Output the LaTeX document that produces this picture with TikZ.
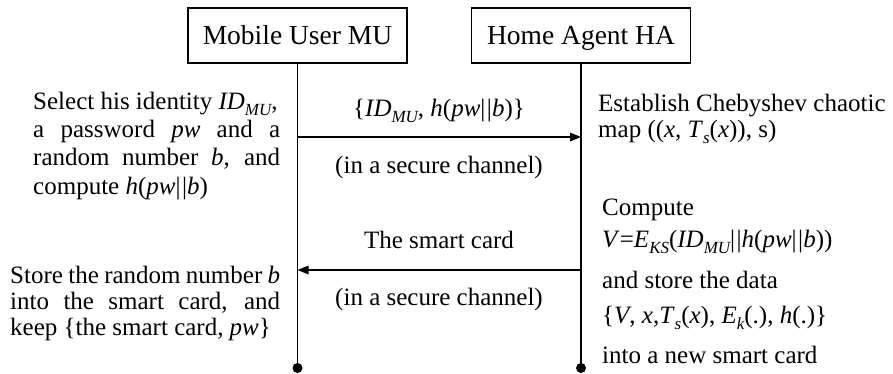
\documentclass[tikz,border=0pt]{standalone}
\usepackage{fontspec}
\setmainfont{Liberation Serif}
\usetikzlibrary{arrows.meta}
\newcommand{\lo}[1]{\raisebox{-6pt}{\fontsize{17}{17}\selectfont\itshape #1}}
\newcommand{\ii}[1]{\textit{#1}}
\newcommand{\cc}{|\kern1.5pt|}
\begin{document}
\begin{tikzpicture}[x=1pt,y=-1pt,
  actor/.style={draw, line width=1.6pt, minimum width=219pt, minimum height=55pt, inner sep=0pt,
    text height=18pt, text depth=0pt, font=\fontsize{27.5}{30}\selectfont},
  life/.style={line width=1.6pt},
  msg/.style={line width=1.6pt, -{Triangle[length=11pt,width=8.5pt]}},
  txt/.style={anchor=base west, inner sep=0pt, font=\fontsize{25}{28}\selectfont},
  lbl/.style={anchor=base, inner sep=0pt, font=\fontsize{25}{28}\selectfont}]
\useasboundingbox (0,0) rectangle (893,374);
\node[actor] (mu) at (297.5,35.5) {Mobile User MU};
\node[actor] (ha) at (581,35.5) {Home Agent HA};
\coordinate (mudot) at (297.5,368);
\coordinate (hadot) at (581,368);
\draw[life] (mu.south) -- (mudot);
\draw[life] (ha.south) -- (hadot);
\fill (mudot) circle (5pt);
\fill (hadot) circle (5pt);
\coordinate (m1a) at (297.5,137);
\coordinate (m1b) at (581,137);
\coordinate (m2a) at (581,270);
\coordinate (m2b) at (297.5,270);
\draw[msg] (m1a) -- (m1b);
\draw[msg] (m2a) -- (m2b);
\node[lbl] (l1) at (439,117) {\{\ii{ID}\lo{MU}, \ii{h}(\ii{pw}\cc\ii{b})\}};
\node[lbl] (l2) at (439,173) {(in a secure channel)};
\node[lbl] (l3) at (439,248) {The smart card};
\node[lbl] (l4) at (439,305) {(in a secure channel)};
\node[txt] (a1) at (33,110) {Select his identity \ii{ID}\lo{MU},};
\node[txt] (a2) at (33,138) {\hbox to 247pt{a password \ii{pw} and a}};
\node[txt] (a3) at (33,166) {\hbox to 247pt{random number \ii{b}, and}};
\node[txt] (a4) at (33,194) {compute \ii{h}(\ii{pw}\cc\ii{b})};
\node[txt] (b1) at (598,112) {Establish Chebyshev chaotic};
\node[txt] (b2) at (598,138) {map ((\ii{x}, \ii{T}\lo{s}(\ii{x})), s)};
\node[txt] (c1) at (602,215) {Compute};
\node[txt] (c2) at (602,247) {\ii{V}=\ii{E}\lo{KS}(\ii{ID}\lo{MU}\cc\ii{h}(\ii{pw}\cc\ii{b}))};
\node[txt] (c3) at (602,288) {and store the data};
\node[txt] (c4) at (602,323) {\{\ii{V}, \ii{x},\ii{T}\lo{s}(\ii{x}), \ii{E}\lo{k}(.), \ii{h}(.)\}};
\node[txt] (c5) at (602,363) {into a new smart card};
\node[txt] (d1) at (10,283) {\hbox to 270pt{Store the random number \ii{b}}};
\node[txt] (d2) at (10,309) {\hbox to 270pt{into the smart card, and}};
\node[txt] (d3) at (10,335) {keep \{the smart card, \ii{pw}\}};
\end{tikzpicture}
\end{document}
